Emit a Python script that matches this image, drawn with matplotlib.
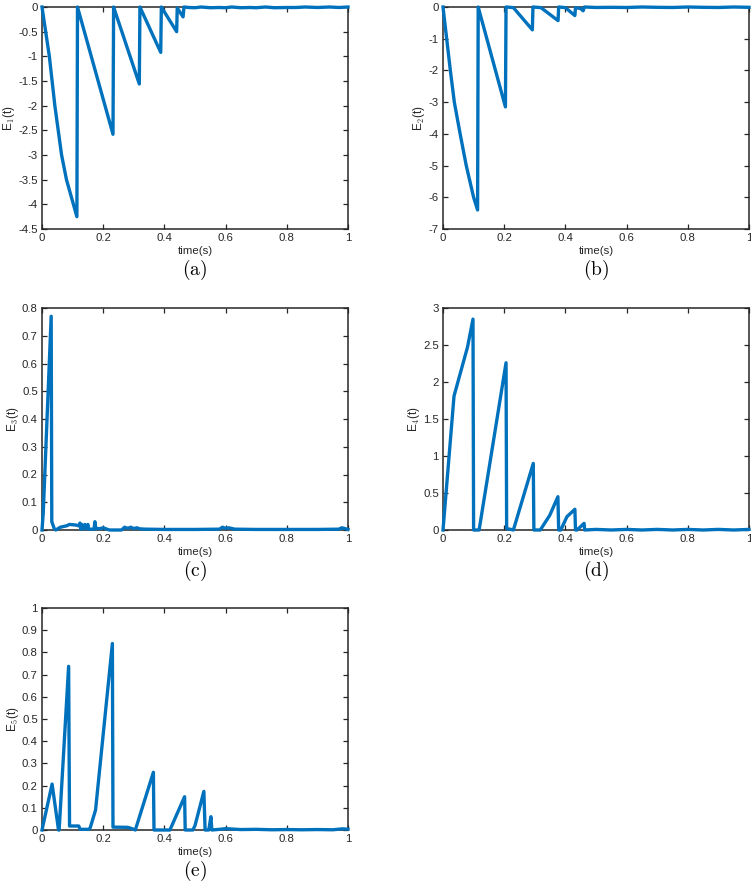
import matplotlib
matplotlib.use("Agg")
from matplotlib import pyplot as plt
from matplotlib.ticker import FuncFormatter

plt.rcParams["font.family"] = ["Liberation Sans", "DejaVu Sans"]
plt.rcParams["mathtext.fontset"] = "cm"

# E1(t)
t1 = [0, 0.024, 0.042, 0.064, 0.08, 0.114, 0.116, 0.232, 0.234, 0.318, 0.320,
      0.388, 0.390, 0.440, 0.442, 0.461, 0.464, 0.48, 0.50, 0.52, 0.55, 0.58,
      0.60, 0.62, 0.65, 0.68, 0.70, 0.73, 0.76, 0.80, 0.83, 0.86, 0.90, 0.94,
      0.97, 1.0]
e1 = [0, -1.0, -2.0, -3.0, -3.5, -4.25, 0, -2.58, 0, -1.56, 0,
      -0.92, 0, -0.50, -0.02, -0.20, 0, -0.01, -0.015, 0, -0.015, -0.01,
      -0.015, 0, -0.015, -0.01, -0.015, 0, -0.015, -0.01, -0.01, 0, -0.01, 0,
      -0.01, 0]

# E2(t)
t2 = [0, 0.012, 0.024, 0.037, 0.056, 0.076, 0.1, 0.113, 0.115, 0.204, 0.206,
      0.23, 0.292, 0.294, 0.32, 0.376, 0.378, 0.40, 0.431, 0.433, 0.45, 0.458,
      0.462, 0.50, 0.55, 0.60, 0.65, 0.70, 0.75, 0.80, 0.85, 0.90, 0.95, 1.0]
e2 = [0, -1.0, -2.0, -3.0, -4.0, -5.0, -6.0, -6.4, 0, -3.15, 0,
      -0.02, -0.72, 0, -0.02, -0.43, 0, -0.02, -0.27, -0.02, -0.05, -0.12,
      0, -0.015, -0.01, -0.015, 0, -0.01, -0.015, 0, -0.01, -0.015, 0, -0.01]

# E3(t)
t3 = [0, 0.004, 0.030, 0.032, 0.040, 0.045, 0.06, 0.08, 0.09, 0.11, 0.12,
      0.124, 0.127, 0.13, 0.135, 0.14, 0.145, 0.15, 0.152, 0.17, 0.173, 0.176,
      0.18, 0.19, 0.20, 0.22, 0.26, 0.27, 0.28, 0.29, 0.30, 0.31, 0.32, 0.34,
      0.40, 0.50, 0.58, 0.59, 0.60, 0.61, 0.63, 0.70, 0.80, 0.90, 0.97, 0.98,
      0.99, 1.0]
e3 = [0, 0.06, 0.77, 0.03, 0.005, 0.0, 0.01, 0.015, 0.02, 0.018, 0.015,
      0.025, 0.003, 0.02, 0.004, 0.02, 0.005, 0.02, 0.003, 0.003, 0.03, 0.005,
      0.005, 0.005, 0.008, 0.0, 0.0, 0.01, 0.006, 0.01, 0.005, 0.008, 0.004, 0.003,
      0.002, 0.002, 0.003, 0.01, 0.006, 0.008, 0.003, 0.002, 0.002, 0.002, 0.003, 0.008,
      0.005, 0.002]

# E4(t)
t4 = [0, 0.036, 0.08, 0.098, 0.100, 0.118, 0.206, 0.208, 0.23, 0.295, 0.297,
      0.318, 0.349, 0.3755, 0.378, 0.385, 0.405, 0.431, 0.433, 0.438, 0.461,
      0.463, 0.50, 0.55, 0.60, 0.65, 0.70, 0.75, 0.80, 0.85, 0.90, 0.95, 1.0]
e4 = [0, 1.81, 2.47, 2.85, 0, 0, 2.26, 0.02, 0, 0.90, 0,
      0, 0.20, 0.45, 0, 0, 0.18, 0.28, 0, 0, 0.09,
      0, 0.008, 0, 0.008, 0, 0.008, 0, 0.008, 0, 0.008, 0, 0.008]

# E5(t)
t5 = [0, 0.033, 0.054, 0.056, 0.087, 0.090, 0.12, 0.125, 0.154, 0.158, 0.175,
      0.230, 0.232, 0.28, 0.29, 0.305, 0.364, 0.366, 0.418, 0.466, 0.468, 0.493,
      0.50, 0.529, 0.533, 0.545, 0.552, 0.555, 0.58, 0.60, 0.65, 0.70, 0.75,
      0.80, 0.85, 0.90, 0.95, 0.98, 1.0]
e5 = [0, 0.207, 0, 0, 0.737, 0.018, 0.018, 0.003, 0.003, 0.012, 0.09,
      0.84, 0.013, 0.012, 0.008, 0, 0.26, 0, 0, 0.15, 0, 0,
      0.02, 0.174, 0, 0, 0.06, 0, 0.003, 0.006, 0.002, 0.003, 0.001,
      0.002, 0.001, 0.002, 0.001, 0.005, 0.004]

panels = [
    (t1, e1, r"E$_1$(t)", (-4.5, 0), [-4.5 + 0.5 * i for i in range(10)], "(a)", (42, 229)),
    (t2, e2, r"E$_2$(t)", (-7, 0), list(range(-7, 1)), "(b)", (443, 229)),
    (t3, e3, r"E$_3$(t)", (0, 0.8), [0.1 * i for i in range(9)], "(c)", (42, 530)),
    (t4, e4, r"E$_4$(t)", (0, 3), [0.5 * i for i in range(7)], "(d)", (443, 530)),
    (t5, e5, r"E$_5$(t)", (0, 1), [0.1 * i for i in range(11)], "(e)", (42, 830)),
]

W, H = 751, 889
fig = plt.figure(figsize=(W / 100, H / 100), dpi=100)
fmt = FuncFormatter(lambda v, p: "%g" % round(v, 3))
dark = "#262626"

for t, e, ylab, ylim, yticks, tag, (left, bottom) in panels:
    ax = fig.add_axes([left / W, 1 - bottom / H, 306 / W, 222 / H])
    ax.plot(t, e, color="#0072BD", lw=2.4, clip_on=False, zorder=5)
    ax.set_xlim(0, 1)
    ax.set_ylim(*ylim)
    ax.set_xticks([0, 0.2, 0.4, 0.6, 0.8, 1])
    ax.set_yticks(yticks)
    ax.xaxis.set_major_formatter(fmt)
    ax.yaxis.set_major_formatter(fmt)
    ax.tick_params(direction="in", top=True, right=True, length=3.5, width=0.9,
                   labelsize=8.2, colors=dark, pad=3)
    for s in ax.spines.values():
        s.set_color(dark)
        s.set_linewidth(1.1)
    ax.set_xlabel("time(s)", fontsize=8.2, color=dark, labelpad=2)
    ax.set_ylabel(ylab, fontsize=8.5, color=dark, labelpad=1)
    fig.text((left + 153) / W, 1 - (bottom + 41) / H, r"$\mathrm{%s}$" % tag,
             ha="center", va="center", fontsize=14)

fig.savefig("out.png", dpi=100)
